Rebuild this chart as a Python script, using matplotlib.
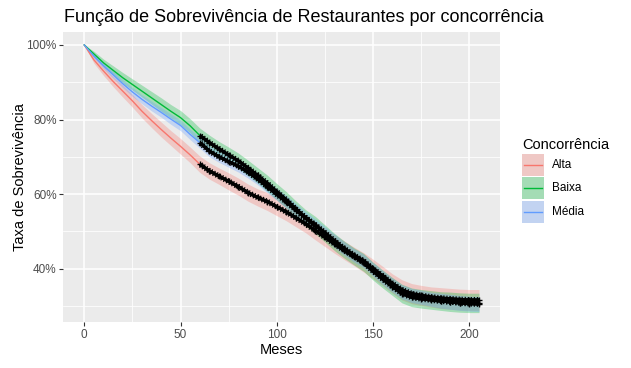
import numpy as np
import matplotlib.pyplot as plt
from matplotlib import patheffects
from matplotlib.patches import Rectangle
from matplotlib.lines import Line2D
from matplotlib.colors import to_rgb

plt.rcParams['font.family'] = ['Liberation Sans', 'DejaVu Sans']

# Curvas de Kaplan-Meier (meses, % de sobrevivência)
meses = [0, 5, 10, 15, 20, 25, 30, 35, 40, 45, 50, 55, 60, 65, 70, 75, 80, 85, 90, 95,
         100, 105, 110, 115, 120, 125, 130, 135, 140, 145, 150, 155, 160, 165, 170, 175,
         180, 185, 190, 195, 200, 205]

grupos = ['Alta', 'Baixa', 'Média']
cores = ['#F8766D', '#00BA38', '#619CFF']

surv_alta = [100, 96, 93, 90.2, 87.6, 85, 82.2, 79.7, 77.3, 75, 72.8, 70.5, 68, 66.2, 64.8,
             63.4, 62, 60.4, 59.1, 58, 56.6, 55.2, 53.6, 52, 50.2, 48.4, 46.6, 44.9, 43.3,
             41.7, 39.9, 38, 36, 34.3, 33.3, 32.8, 32.4, 32.1, 31.9, 31.7, 31.6, 31.6]
surv_baixa = [100, 97.6, 95.2, 93.2, 91.2, 89.4, 87.6, 85.8, 84, 82.2, 80.5, 78.3, 75.7, 73.8,
              72.1, 70.5, 68.9, 67, 65, 62.9, 60.6, 58.4, 55.9, 53.6, 51.7, 49.4, 47.1, 45.1,
              43.3, 41.7, 39.3, 37.2, 35.2, 33.3, 32.3, 31.9, 31.6, 31.3, 31.1, 30.9, 30.8, 30.8]
surv_media = [100, 97, 94.4, 92, 89.6, 87.4, 85.4, 83.6, 81.9, 80.1, 78.4, 76, 73.8, 71.5, 70,
              68.7, 67.5, 65.9, 64.1, 62, 59.9, 57.9, 55.7, 53.6, 51.6, 49.6, 47.4, 45.4, 43.6,
              42.1, 39.8, 37.6, 35.6, 33.8, 32.8, 32.3, 31.8, 31.4, 31.1, 30.8, 30.6, 30.5]

# meia largura do intervalo de confiança (pontos percentuais)
ic_alta = [0, 0.9, 1.2, 1.4, 1.6, 1.7, 1.8, 1.9, 2.0, 2.0, 2.1, 2.1, 2.2, 2.2, 2.2, 2.3, 2.3,
           2.3, 2.3, 2.4, 2.4, 2.4, 2.4, 2.4, 2.5, 2.5, 2.5, 2.5, 2.5, 2.6, 2.6, 2.6, 2.6, 2.7,
           2.7, 2.7, 2.7, 2.8, 2.8, 2.8, 2.8, 2.8]
ic_baixa = [0, 0.7, 1.0, 1.2, 1.4, 1.5, 1.6, 1.7, 1.8, 1.8, 1.9, 1.9, 2.0, 2.0, 2.0, 2.1, 2.1,
            2.1, 2.1, 2.2, 2.2, 2.2, 2.2, 2.2, 2.3, 2.3, 2.3, 2.3, 2.3, 2.4, 2.4, 2.4, 2.4, 2.5,
            2.5, 2.5, 2.5, 2.5, 2.6, 2.6, 2.6, 2.6]
ic_media = [0, 0.6, 0.8, 1.0, 1.1, 1.2, 1.2, 1.3, 1.3, 1.4, 1.4, 1.4, 1.5, 1.5, 1.5, 1.5, 1.6,
            1.6, 1.6, 1.6, 1.6, 1.7, 1.7, 1.7, 1.7, 1.7, 1.8, 1.8, 1.8, 1.8, 1.8, 1.9, 1.9, 1.9,
            1.9, 1.9, 1.9, 2.0, 2.0, 2.0, 2.0, 2.0]

# a partir deste mês aparecem as censuras (+), praticamente uma por mês
inicio_censura = [60, 60, 60]

curvas = [surv_alta, surv_baixa, surv_media]
ics = [ic_alta, ic_baixa, ic_media]

W, H = 631, 368
fundo = '#EBEBEB'
fig = plt.figure(figsize=(W / 100, H / 100), dpi=100)
ax = fig.add_axes([63.3 / W, 1 - 322.3 / H, (500 - 63.3) / W, (322.3 - 32.3) / H])
ax.set_facecolor(fundo)
for s in ax.spines.values():
    s.set_visible(False)

t = np.array(meses, dtype=float)
for cor, s, ic in zip(cores, curvas, ics):
    s = np.array(s)
    ic = np.array(ic)
    ax.fill_between(t, s - ic, s + ic, color=cor, alpha=0.3, lw=0)
for cor, s in zip(cores, curvas):
    ax.plot(t, s, color=cor, lw=1.0)

# censuras densas: traço preto com marquinhas dos dois lados
cruzes = [patheffects.withTickedStroke(angle=90, spacing=2.2, length=0.95, linewidth=0.9),
          patheffects.withTickedStroke(angle=-90, spacing=2.2, length=0.95, linewidth=0.9)]
for s, c0 in zip(curvas, inicio_censura):
    s = np.array(s)
    m = t >= c0
    ax.plot(t[m], s[m], color='black', lw=2.3, solid_capstyle='butt', path_effects=cruzes)
    ax.plot(t[m], s[m], ls='none', marker='+', ms=4.5, mew=1.0, color='black')

ax.set_xlim(-10.9, 215.9)
ax.set_ylim(25.6, 103.4)
ax.set_xticks([0, 50, 100, 150, 200])
ax.set_xticks([25, 75, 125, 175], minor=True)
ax.set_yticks([40, 60, 80, 100])
ax.set_yticks([30, 50, 70, 90], minor=True)
ax.set_yticklabels(['40%', '60%', '80%', '100%'])
ax.grid(which='major', color='white', lw=1.1)
ax.grid(which='minor', color='white', lw=0.55)
ax.set_axisbelow(True)
ax.tick_params(which='major', length=2.6, width=0.8, color='#333333',
               labelcolor='#4D4D4D', labelsize=8.45, pad=2.1)
ax.tick_params(which='minor', length=0)

ax.set_xlabel('Meses', fontsize=10.56)
ax.xaxis.set_label_coords(0.5, -0.072)
ax.set_ylabel('Taxa de Sobrevivência', fontsize=10.56)
ax.yaxis.set_label_coords(-0.083, 0.5)

fig.text(64 / W, 1 - 18 / H, 'Função de Sobrevivência de Restaurantes por concorrência',
         fontsize=13.0, ha='left', va='center')

# legenda desenhada à mão, no estilo do ggplot
fig.text(522 / W, 1 - 145 / H, 'Concorrência', fontsize=10.56, ha='left', va='center')
for i, (g, cor) in enumerate(zip(grupos, cores)):
    topo = 154 + i * 23.3
    mistura = tuple(0.3 * a + 0.7 * b for a, b in zip(to_rgb(cor), to_rgb(fundo)))
    fig.add_artist(Rectangle((522 / W, 1 - (topo + 22) / H), 22.3 / W, 22 / H,
                             transform=fig.transFigure, facecolor=mistura, edgecolor='none'))
    fig.add_artist(Line2D([524 / W, 542 / W], [1 - (topo + 11) / H] * 2,
                          transform=fig.transFigure, color=cor, lw=1.0))
    fig.text(552 / W, 1 - (topo + 11) / H, g, fontsize=8.45, ha='left', va='center')

fig.savefig('out.png', dpi=100)
